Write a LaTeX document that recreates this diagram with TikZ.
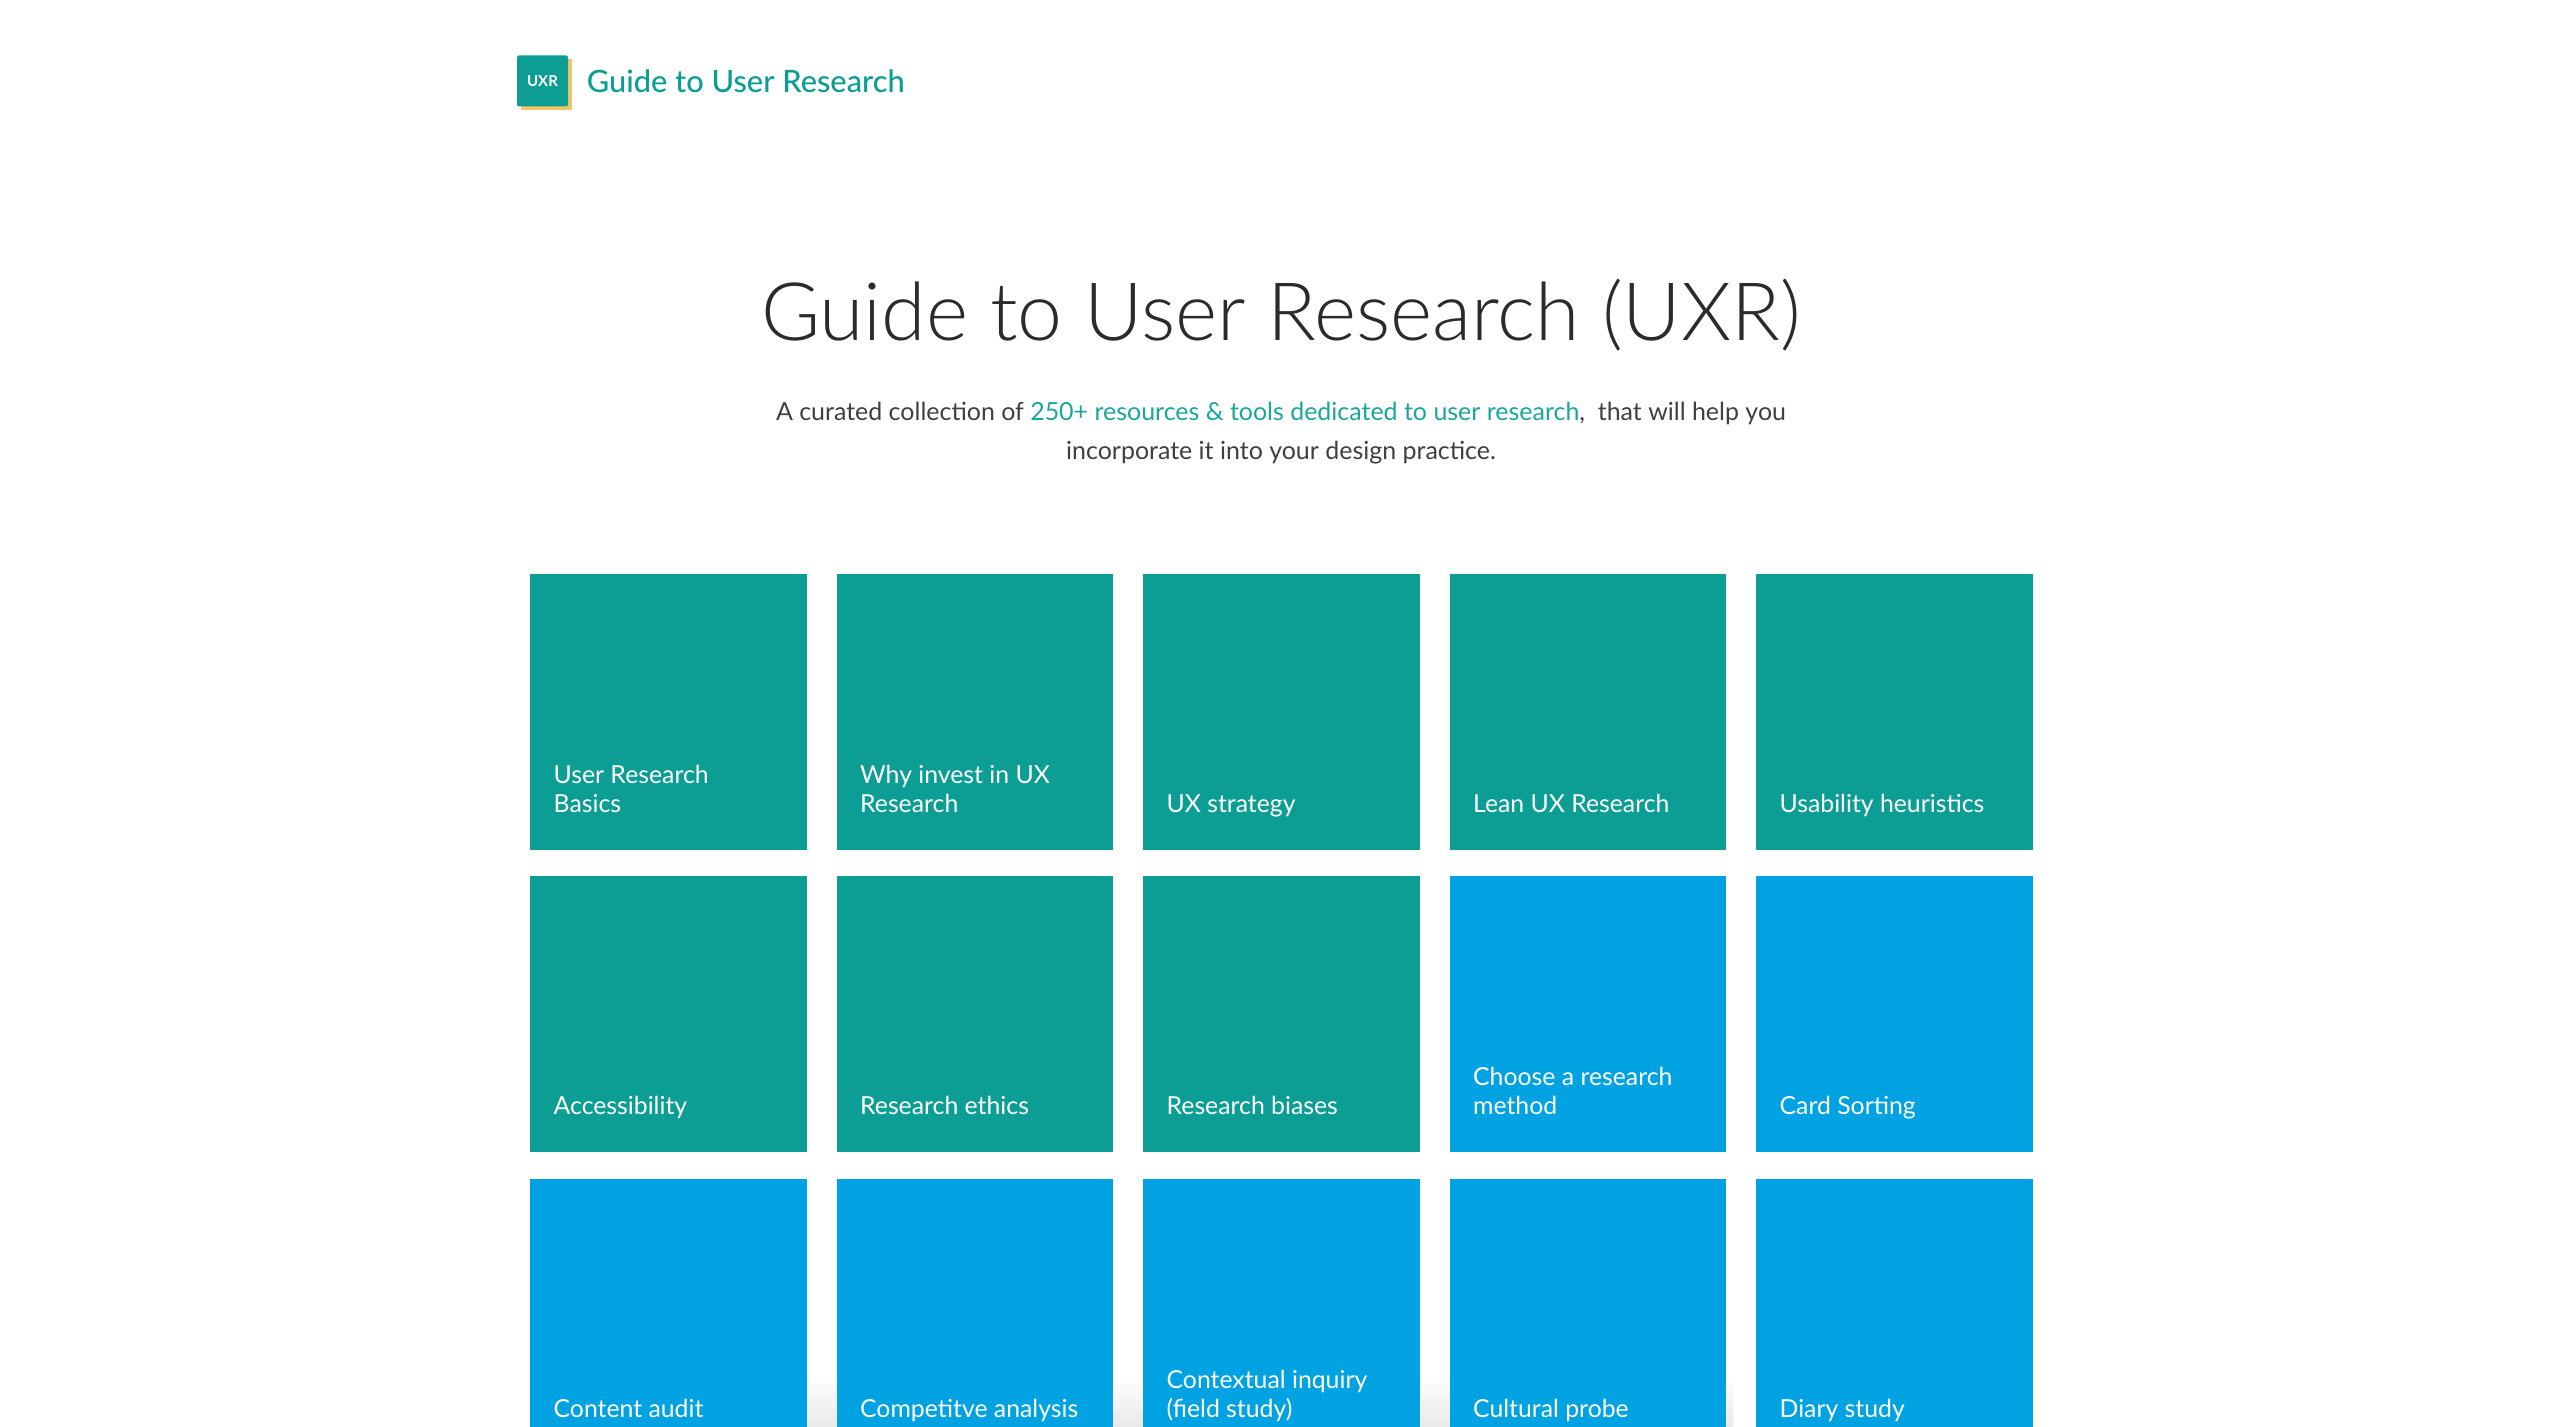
\documentclass[tikz,border=0pt]{standalone}
\usepackage{fontspec}
\usepackage{xcolor}
\setmainfont{Lato}
\newfontfamily\lightfont{Lato Light}
\newfontfamily\mediumfont{Lato Medium}
\usetikzlibrary{positioning, matrix}
\definecolor{tealtile}{HTML}{0C9E94}
\definecolor{bluetile}{HTML}{00A2E1}
\definecolor{goldedge}{HTML}{F0C766}
\definecolor{linkteal}{HTML}{1AA79A}
\definecolor{inktext}{HTML}{2B2B2B}
\definecolor{fadegray}{HTML}{E9E9E9}
\newcommand{\tilecap}[1]{\vbox to 138pt{\hsize=115pt\vfill\raggedright\fontsize{12.4}{14.5}\selectfont #1\strut\par\kern14.5pt}}
\tikzset{
    tile/.style={inner xsep=11.5pt, inner ysep=0pt, minimum width=138.25pt, minimum height=138pt, text=white},
    teal/.style={tile, fill=tealtile},
    blue/.style={tile, fill=bluetile},
}
\begin{document}
\begin{tikzpicture}[x=0.5pt,y=-0.5pt]
    \useasboundingbox (0,0) rectangle (2560,1427);
    \fill[white] (0,0) rectangle (2560,1427);
    % header
    \node (logoedge) [fill=goldedge, minimum size=25.5pt, inner sep=0pt] at (546.5,85) {};
    \node (logo) [fill=tealtile, rounded corners=1pt, minimum size=25.5pt, inner sep=0pt, text=white, font=\bfseries\fontsize{7.5}{9}\selectfont] at (542.5,81) {UXR};
    \node (brand) [right=9pt of logo, inner sep=0pt, text=tealtile, font=\mediumfont\fontsize{15.4}{18}\selectfont] {Guide to User Research};
    % title block
    \node (title) [inner sep=0pt, text=inktext, font=\lightfont\fontsize{40.3}{48}\selectfont] at (1281,315) {Guide to User Research (UXR)};
    \node (intro) [below=25pt of title, inner sep=0pt, text=inktext!90, align=center, font=\fontsize{12.48}{19.5}\selectfont]
        {A curated collection of \textcolor{linkteal}{250+ resources \& tools dedicated to user research},\ \ that will help you\\ incorporate it into your design practice.};
    % grey fade at the foot, shows only between the tiles
    \shade[top color=white, bottom color=fadegray] (806,1375) rectangle (1733,1427);
    % tiles
    \matrix (m) [matrix of nodes, anchor=north west, inner sep=0pt, row sep=13.25pt, column sep=15pt] at (530,573.5)
    {%
        |[teal]| \tilecap{User Research\\ Basics} &
        |[teal]| \tilecap{Why invest in UX\\ Research} &
        |[teal]| \tilecap{UX strategy} &
        |[teal]| \tilecap{Lean UX Research} &
        |[teal]| \tilecap{Usability heuristics} \\
        |[teal]| \tilecap{Accessibility} &
        |[teal]| \tilecap{Research ethics} &
        |[teal]| \tilecap{Research biases} &
        |[blue]| \tilecap{Choose a research\\ method} &
        |[blue]| \tilecap{Card Sorting} \\
        |[blue]| \tilecap{Content audit} &
        |[blue]| \tilecap{Competitve analysis} &
        |[blue]| \tilecap{Contextual inquiry\\ (field study)} &
        |[blue]| \tilecap{Cultural probe} &
        |[blue]| \tilecap{Diary study} \\
    };
\end{tikzpicture}
\end{document}
